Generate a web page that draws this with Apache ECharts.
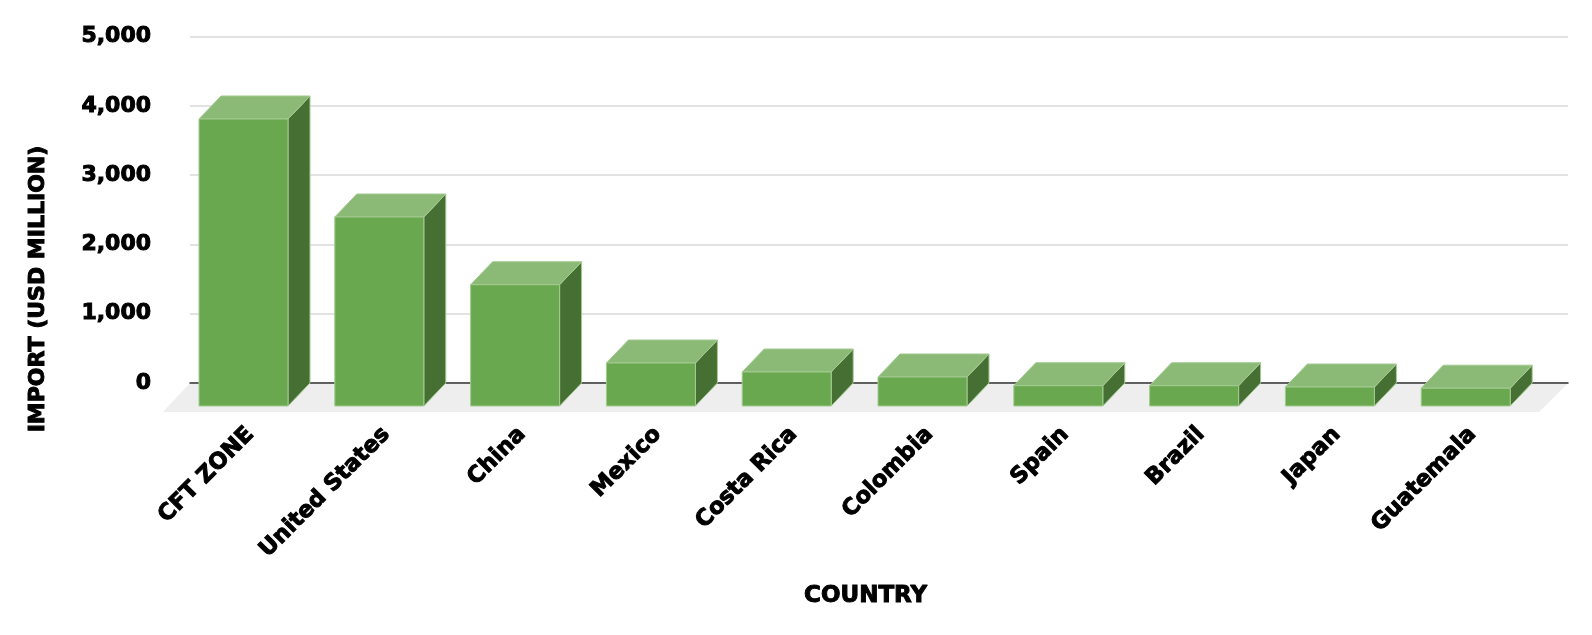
<!DOCTYPE html>
<html>
<head>
<meta charset="utf-8">
<style>html,body{margin:0;padding:0;background:#fff}#c{width:1592px;height:635px}</style>
<script src="https://cdn.jsdelivr.net/npm/echarts@6/dist/echarts.min.js"></script>
</head>
<body>
<div id="c"></div>
<script>
const categories = ['CFT ZONE','United States','China','Mexico','Costa Rica','Colombia','Spain','Brazil','Japan','Guatemala'];
const imports = [4144,2729,1751,621,491,419,293,293,274,257];
const yTicks = {min:0,max:5000,interval:1000};
const FONT = '"DejaVu Sans"';
const DX = 22, DY = 23, BARW = 89, LABEL_SHIFT = 4;
const chart = echarts.init(document.getElementById('c'));
const top0 = 36.7, h0 = 346.3;
const heavy = {color:'#000',fontFamily:FONT,fontWeight:'bold',textBorderColor:'#000',textBorderWidth:1};
function poly(points, fill){
  return {type:'polygon',shape:{points},style:{fill,stroke:'#a4cb92',lineWidth:1,lineJoin:'miter'}};
}
chart.setOption({
  animation:false,
  backgroundColor:'#fff',
  grid:[
    {left:186.6-LABEL_SHIFT,width:1358,top:top0,height:h0},
    {left:190,width:1378,top:top0,height:h0}
  ],
  xAxis:[
    {type:'category',gridIndex:0,data:categories,
      axisLine:{show:false},axisTick:{show:false},
      axisLabel:Object.assign({interval:0,rotate:45,margin:48,fontSize:22.5},heavy),
      name:'COUNTRY',nameLocation:'middle',nameGap:202,
      nameTextStyle:Object.assign({fontSize:23,padding:[0,0,0,LABEL_SHIFT*2]},heavy)},
    {type:'category',gridIndex:1,data:categories,
      axisLine:{show:true,onZero:true,lineStyle:{color:'#333',width:1.5}},axisTick:{show:false},axisLabel:{show:false},z:1}
  ],
  yAxis:[
    {type:'value',gridIndex:0,min:yTicks.min,max:yTicks.max,interval:yTicks.interval,
      axisLine:{show:false},axisTick:{show:false},axisLabel:{show:false},splitLine:{show:false}},
    {type:'value',gridIndex:1,min:yTicks.min,max:yTicks.max,interval:yTicks.interval,
      axisLine:{show:false},axisTick:{show:false},
      axisLabel:Object.assign({margin:39,fontSize:22,formatter:v=>v.toLocaleString('en-US')},heavy),
      splitLine:{show:true,lineStyle:{color:'#d9d9d9',width:1.5}}}
  ],
  graphic:[{type:'text',x:38,y:289,rotation:Math.PI/2,
    style:{text:'IMPORT (USD MILLION)',fill:'#000',stroke:'#000',lineWidth:1,font:'bold 22px '+FONT,align:'center',verticalAlign:'middle'}}],
  series:[
    {type:'custom',xAxisIndex:1,yAxisIndex:1,z:0,silent:true,data:[[0,0]],
      renderItem(params,api){
        const cs=params.coordSys, y=api.coord([0,0])[1];
        return {type:'polygon',shape:{points:[[cs.x,y],[cs.x+cs.width,y],[cs.x+cs.width-29,y+29],[cs.x-27,y+29]]},style:{fill:'#eeeeee'}};
      }},
    {type:'custom',xAxisIndex:0,yAxisIndex:0,z:3,silent:true,
      data:imports.map((v,i)=>[i,v]),
      encode:{x:0,y:1},
      renderItem(params,api){
        const p=api.coord([api.value(0),api.value(1)]), b=api.coord([api.value(0),0]);
        const l=p[0]+LABEL_SHIFT-DX/2-BARW/2, r=l+BARW, t=p[1]+DY, f=b[1]+DY;
        return {type:'group',children:[
          poly([[r,t],[r+DX,t-DY],[r+DX,f-DY],[r,f]],'#466f33'),
          poly([[l,t],[l+DX,t-DY],[r+DX,t-DY],[r,t]],'#8aba76'),
          poly([[l,t],[r,t],[r,f],[l,f]],'#6aa84f')
        ]};
      }}
  ]
});
</script>
</body>
</html>
